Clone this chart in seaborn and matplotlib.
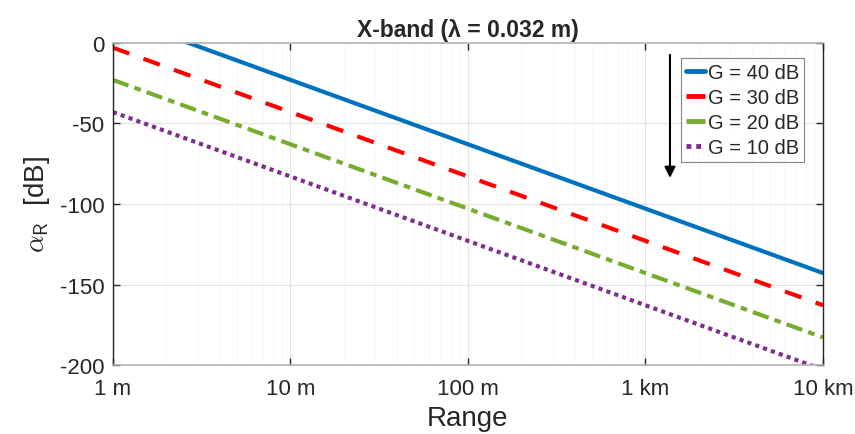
import matplotlib
matplotlib.use("Agg")
import matplotlib.pyplot as plt
import seaborn as sns
import pandas as pd
from matplotlib.ticker import FixedLocator, FixedFormatter, LogLocator, NullFormatter

# ---- data ----
range_m = [1, 10000]
gain_labels = ["G = 40 dB", "G = 30 dB", "G = 20 dB", "G = 10 dB"]
alpha_g40 = [17.1, -142.9]
alpha_g30 = [-2.9, -162.9]
alpha_g20 = [-22.9, -182.9]
alpha_g10 = [-42.9, -202.9]
xtick_vals = [1, 10, 100, 1000, 10000]
xtick_labels = ["1 m", "10 m", "100 m", "1 km", "10 km"]
ytick_vals = [-200, -150, -100, -50, 0]
ytick_labels = ["-200", "-150", "-100", "-50", "0"]

sns.set_theme(style="white")
plt.rcParams["font.family"] = ["Liberation Sans", "DejaVu Sans"]
plt.rcParams["mathtext.fontset"] = "cm"

colors = ["#0072BD", "#FF0000", "#77AC30", "#7E2F8E"]
dashes = [None, (4.2, 3.6), (4.0, 1.5, 1.6, 1.5), (1.0, 1.0)]
series = [alpha_g40, alpha_g30, alpha_g20, alpha_g10]

fig = plt.figure(figsize=(8.55, 4.35), dpi=100)
ax = fig.add_axes([0.132, 0.1586, 0.8306, 0.7403])

for lab, vals, c, d in zip(gain_labels, series, colors, dashes):
    df = pd.DataFrame({"Range": range_m, "alpha": vals})
    sns.lineplot(data=df, x="Range", y="alpha", ax=ax, color=c,
                 linewidth=3.0, label=lab)
    ln = ax.get_lines()[-1]
    if d is not None:
        ln.set_dashes(d)
        ln.set_dash_capstyle("butt")

ax.set_xscale("log")
ax.set_xlim(1, 10000)
ax.set_ylim(-200, 0)

ax.xaxis.set_major_locator(FixedLocator(xtick_vals))
ax.xaxis.set_major_formatter(FixedFormatter(xtick_labels))
ax.xaxis.set_minor_locator(LogLocator(base=10, subs=range(2, 10), numticks=20))
ax.xaxis.set_minor_formatter(NullFormatter())
ax.yaxis.set_major_locator(FixedLocator(ytick_vals))
ax.yaxis.set_major_formatter(FixedFormatter(ytick_labels))

ax.tick_params(axis="both", which="major", direction="in", length=5, width=1,
               colors="#262626", labelsize=16, top=True, right=True,
               bottom=True, left=True)
ax.tick_params(axis="x", which="minor", length=0)
ax.tick_params(axis="x", pad=9)
ax.tick_params(axis="y", pad=6)

ax.grid(True, which="major", color="#e3e3e3", linewidth=0.8, linestyle="-")
ax.grid(True, which="minor", axis="x", color="#ececec", linewidth=0.7, linestyle=":")
ax.set_axisbelow(True)

for s in ["left", "right"]:
    ax.spines[s].set_color("#262626")
    ax.spines[s].set_linewidth(1.0)
for s in ["top", "bottom"]:
    ax.spines[s].set_color("#b3b3b3")
    ax.spines[s].set_linewidth(1.2)

ax.set_xlabel("Range", fontsize=20, color="#262626", labelpad=5)
ax.set_ylabel(r"$\alpha_{\mathsf{R}}$  [dB]", fontsize=20, color="#262626", labelpad=6)
ax.set_title("X-band (λ = 0.032 m)", fontsize=16.5, fontweight="bold", pad=5)

leg = ax.legend(loc="upper right", bbox_to_anchor=(0.973, 0.953), fontsize=14.5,
                frameon=True, fancybox=False, handlelength=0.9, handletextpad=0.15,
                borderpad=0.25, labelspacing=0.3, borderaxespad=0.0)
leg.get_frame().set_edgecolor("#666666")
leg.get_frame().set_linewidth(0.8)
for h in leg.get_lines():
    h.set_linewidth(3.5)

ax.annotate("", xy=(0.7845, 0.581), xytext=(0.7845, 0.963),
            xycoords="axes fraction", textcoords="axes fraction",
            arrowprops=dict(arrowstyle="-|>", color="black", lw=1.5,
                            mutation_scale=16, shrinkA=0, shrinkB=0))

fig.savefig("out.png", dpi=100)
